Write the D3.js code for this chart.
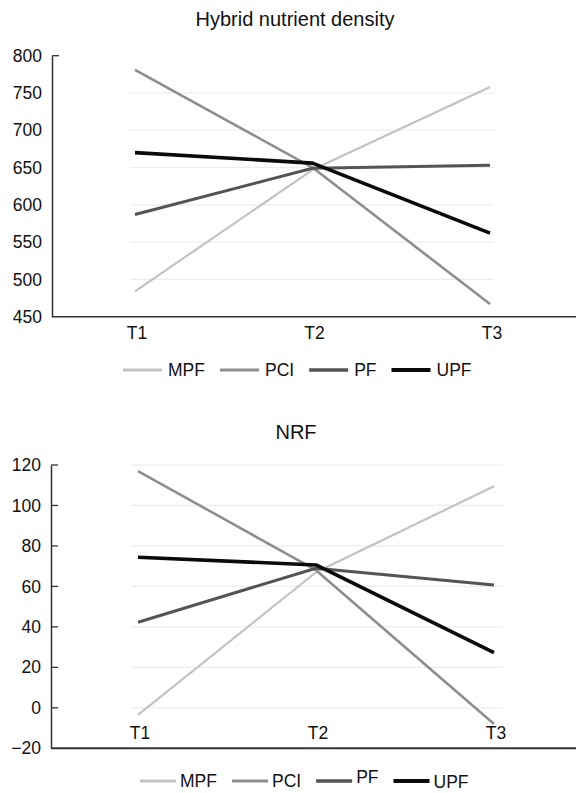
<!DOCTYPE html>
<html>
<head>
<meta charset="utf-8">
<script src="https://cdn.jsdelivr.net/npm/d3@7"></script>
<style>
  body { margin: 0; background: #fff; }
  svg { display: block; font-family: 'Liberation Sans', Arial, sans-serif; }
</style>
</head>
<body>
<svg width="576" height="793"></svg>
<script>
const times = ['T1', 'T2', 'T3']
const seriesNames = ['MPF', 'PCI', 'PF', 'UPF']

// Hybrid nutrient density
const hndMPF = [484, 647, 758]
const hndPCI = [781, 650, 467]
const hndPF = [587, 649, 653]
const hndUPF = [670, 656, 562]
const hndTicks = [450, 500, 550, 600, 650, 700, 750, 800]

// NRF
const nrfMPF = [-3.5, 67, 109.5]
const nrfPCI = [117, 68, -8]
const nrfPF = [42.3, 69, 60.7]
const nrfUPF = [74.4, 70.6, 27.3]
const nrfTicks = [-20, 0, 20, 40, 60, 80, 100, 120]

const styles = {
  MPF: { color: '#c2c2c2', width: 2.2 },
  PCI: { color: '#8e8e8e', width: 2.6 },
  PF: { color: '#545454', width: 3 },
  UPF: { color: '#0a0a0a', width: 3.6 },
}

const svg = d3.select('svg')

function drawPanel(opts) {
  const g = svg.append('g')
  const x = d3.scalePoint().domain(times).range(opts.xRange)
  const y = d3.scaleLinear().domain(opts.domain).range(opts.yRange)

  g.append('text')
    .attr('x', opts.titleX)
    .attr('y', opts.titleY)
    .attr('text-anchor', 'middle')
    .style('font-size', '20px')
    .style('fill', '#111')
    .text(opts.title)

  // gridlines
  g.selectAll('.grid')
    .data(opts.grid)
    .enter()
    .append('line')
    .attr('x1', opts.gridX[0])
    .attr('x2', opts.gridX[1])
    .attr('y1', (d) => y(d))
    .attr('y2', (d) => y(d))
    .style('stroke', '#ececec')
    .style('stroke-width', 1.2)

  // y axis
  const yAxis = g.append('g')
    .attr('transform', `translate(${opts.axisX},0)`)
    .call(d3.axisLeft(y).tickValues(opts.ticks).tickSize(0).tickPadding(10)
      .tickFormat((d) => (d < 0 ? '\u2212' + Math.abs(d) : d)))
  yAxis.select('.domain').style('stroke', '#333').style('stroke-width', 1.5)
  yAxis.selectAll('text')
    .style('font-size', '17.5px')
    .style('fill', '#111')
    .style('font-family', "'Liberation Sans', Arial, sans-serif")
  g.selectAll('.ytick')
    .data(opts.tickMarks)
    .enter()
    .append('line')
    .attr('x1', opts.axisX)
    .attr('x2', opts.axisX + 7)
    .attr('y1', (d) => y(d))
    .attr('y2', (d) => y(d))
    .style('stroke', '#333')
    .style('stroke-width', 1.3)

  // x axis line
  g.append('line')
    .attr('x1', opts.axisX)
    .attr('x2', 576)
    .attr('y1', y(opts.domain[0]))
    .attr('y2', y(opts.domain[0]))
    .style('stroke', '#333')
    .style('stroke-width', opts.xAxisWidth)

  g.selectAll('.xlab')
    .data(times)
    .enter()
    .append('text')
    .attr('x', (d) => x(d) + 2)
    .attr('y', y(opts.domain[0]) + opts.xLabelDy)
    .attr('text-anchor', 'middle')
    .style('font-size', '17.5px')
    .style('fill', '#111')
    .text((d) => d)

  const line = d3.line().x((d, i) => x(times[i])).y((d) => y(d))
  seriesNames.forEach((name) => {
    const s = styles[name]
    g.append('path')
      .datum(opts.data[name])
      .attr('d', line)
      .style('fill', 'none')
      .style('stroke', s.color)
      .style('stroke-width', s.width)
      .style('stroke-linejoin', 'round')
  })

  // legend
  let lx = opts.legendX
  seriesNames.forEach((name, i) => {
    const s = styles[name]
    g.append('line')
      .attr('x1', lx)
      .attr('x2', lx + opts.legendLine)
      .attr('y1', opts.legendY)
      .attr('y2', opts.legendY)
      .style('stroke', s.color)
      .style('stroke-width', s.width + 0.6)
    lx += opts.legendLine + opts.legendGap
    const t = g.append('text')
      .attr('x', lx)
      .attr('y', opts.legendY + 6 + opts.legendDy[i])
      .style('font-size', '17.5px')
      .style('fill', '#111')
      .text(name)
    lx += t.node().getComputedTextLength() + 15
  })
}

drawPanel({
  title: 'Hybrid nutrient density',
  titleX: 295,
  titleY: 26,
  domain: [450, 800],
  yRange: [316.7, 55.7],
  xRange: [135, 490],
  gridX: [130, 494],
  axisX: 52,
  ticks: hndTicks,
  grid: [500, 550, 600, 650, 700, 750],
  tickMarks: [800],
  xAxisWidth: 1.5,
  xLabelDy: 22,
  data: { MPF: hndMPF, PCI: hndPCI, PF: hndPF, UPF: hndUPF },
  legendX: 123,
  legendY: 370,
  legendLine: 39,
  legendGap: 6,
  legendDy: [0, 0, 0, 0],
})

drawPanel({
  title: 'NRF',
  titleX: 296,
  titleY: 439,
  domain: [-20, 120],
  yRange: [748.3, 465],
  xRange: [138, 494],
  gridX: [131, 503],
  axisX: 51,
  ticks: nrfTicks,
  grid: [0, 20, 40, 60, 80, 100, 120],
  tickMarks: [0, 20, 40, 60, 80, 100, 120],
  xAxisWidth: 2,
  xLabelDy: -9,
  data: { MPF: nrfMPF, PCI: nrfPCI, PF: nrfPF, UPF: nrfUPF },
  legendX: 140,
  legendY: 781,
  legendLine: 36,
  legendGap: 4,
  legendDy: [0, 0, -4, 1],
})
</script>
</body>
</html>
